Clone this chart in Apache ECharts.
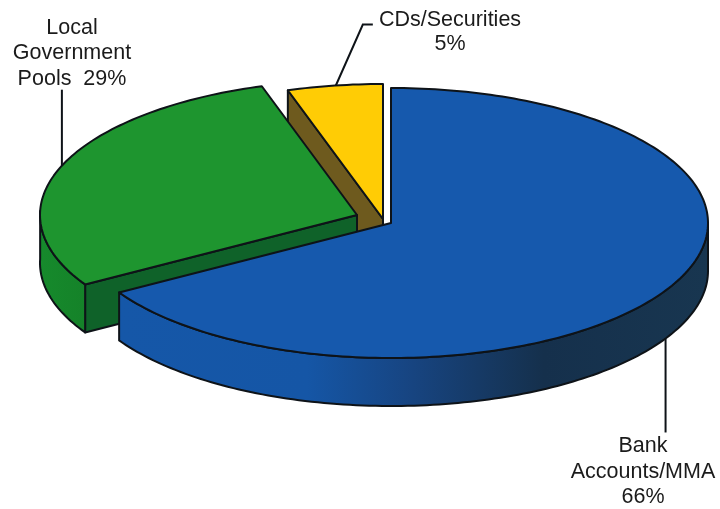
<!DOCTYPE html>
<html>
<head>
<meta charset="utf-8">
<style>html,body{margin:0;padding:0;background:#fff}#chart{width:720px;height:509px}</style>
<script src="https://cdn.jsdelivr.net/npm/echarts@6/dist/echarts.min.js"></script>
</head>
<body>
<div id="chart"></div>
<script>
// Investment mix, in percent, clockwise from twelve o'clock.
const categories = ['Bank Accounts/MMA', 'Local Government Pools', 'CDs/Securities'];
const values = [66, 29, 5];
const labelTemplates = ['Bank\nAccounts/MMA\n{v}%', 'Local\nGovernment\nPools  {v}%', 'CDs/Securities\n{v}%'];

// Disc projection and per-slice styling.
const disc = { cx: 391, cy: 223, rx: 317, ry: 135, depth: 48, perspective: 0.03 };
const EDGE = '#0e1318';
const sliceStyles = [
  {
    explode: [0, 0], top: '#1659ad', cut: '#12438a',
    wall: [[0, '#1557a8'], [0.32, '#1556a6'], [0.5, '#174480'], [0.72, '#15304c'], [1, '#183650']],
    label: { x: 643, y: 472, lineHeight: 25.5 },
    leader: { at: 0.505, fromBase: true, path: [[0, 94]] }
  },
  {
    explode: [-34, -8], top: '#1e952f', cut: '#0f6229',
    wall: [[0, '#168a2c'], [1, '#158229']],
    label: { x: 72, y: 53.5, lineHeight: 25.5 },
    leader: { at: 0.5, fromBase: false, path: [[0, -76]] }
  },
  {
    explode: [-8, -4], top: '#ffcc05', cut: '#6e5a1e',
    wall: [[0, '#6e5a1e'], [1, '#6e5a1e']],
    label: { x: 450, y: 32, lineHeight: 24 },
    leader: { at: 0.51, fromBase: false, path: [[27, -61], [37, -61]] }
  }
];

const total = values.reduce((a, b) => a + b, 0);
const deg = v => (v / total) * 2 * Math.PI;

// Angular extent of each slice, measured clockwise from the top of the disc.
const spans = [];
values.reduce((acc, v) => {
  spans.push([deg(acc), deg(acc + v)]);
  return acc + v;
}, 0);

// Angles on the left half drift slightly under the camera's perspective.
function projected(a) {
  return a > Math.PI ? a + disc.perspective * Math.abs(Math.sin(a)) : a;
}

function rimPoint(center, a, drop) {
  const p = projected(a);
  return [center[0] + disc.rx * Math.sin(p), center[1] - disc.ry * Math.cos(p) + (drop || 0)];
}

function arc(center, a0, a1, drop) {
  const n = Math.max(2, Math.ceil(Math.abs(a1 - a0) / 0.02));
  const pts = [];
  for (let i = 0; i <= n; i++) pts.push(rimPoint(center, a0 + (a1 - a0) * i / n, drop));
  return pts;
}

function poly(points, fill, z2) {
  return {
    type: 'polygon',
    shape: { points },
    z2,
    style: { fill, stroke: EDGE, lineWidth: 2, lineJoin: 'round' }
  };
}

function cutWall(center, a, fill, z2) {
  const p = rimPoint(center, a);
  return poly([center, p, [p[0], p[1] + disc.depth], [center[0], center[1] + disc.depth]], fill, z2);
}

function renderSlice(params, api) {
  const i = api.value(0);
  const s = sliceStyles[i];
  const [a0, a1] = spans[i];
  const center = [disc.cx + s.explode[0], disc.cy + s.explode[1]];
  const children = [];
  const base = 10 * params.dataIndex;

  // Cut faces: only those turned toward the viewer.
  if (Math.sin(a0) < -1e-6) children.push(cutWall(center, a0, s.cut, base + 1));
  if (Math.sin(a1) > 1e-6) children.push(cutWall(center, a1, s.cut, base + 1));

  // Outer rim: the part of the arc on the front half of the disc.
  const w0 = Math.max(a0, Math.PI / 2);
  const w1 = Math.min(a1, 1.5 * Math.PI);
  if (w1 > w0) {
    const pts = arc(center, w0, w1, 0).concat(arc(center, w1, w0, disc.depth));
    children.push(poly(pts, new echarts.graphic.LinearGradient(0, 0, 1, 0, s.wall.map(
      ([offset, color]) => ({ offset, color })
    )), base + 2));
  }

  // Top face.
  children.push(poly([center].concat(arc(center, a0, a1, 0)), s.top, base + 3));

  // Leader line from the rim out to the label.
  const la = a0 + (a1 - a0) * s.leader.at;
  const start = rimPoint(center, la, s.leader.fromBase ? disc.depth : 0);
  const line = [start].concat(s.leader.path.map(d => [start[0] + d[0], start[1] + d[1]]));
  children.push({
    type: 'polyline',
    shape: { points: line },
    z2: 100,
    style: { fill: null, stroke: EDGE, lineWidth: 2 }
  });

  // Label text carrying the slice's value.
  children.push({
    type: 'text',
    z2: 101,
    style: {
      text: labelTemplates[i].replace('{v}', api.value(1)),
      x: s.label.x,
      y: s.label.y,
      align: 'center',
      verticalAlign: 'middle',
      fontFamily: '"Liberation Sans", Arial, sans-serif',
      fontSize: 21.5,
      lineHeight: s.label.lineHeight,
      fill: '#1b1b1b'
    }
  });

  return { type: 'group', children };
}

// Farthest slice first so that nearer slices overlap it.
const drawOrder = [2, 1, 0];

const chart = echarts.init(document.getElementById('chart'), null, { renderer: 'canvas' });
chart.setOption({
  animation: false,
  backgroundColor: '#ffffff',
  series: [{
    type: 'custom',
    coordinateSystem: 'none',
    renderItem: renderSlice,
    data: drawOrder.map(i => ({ name: categories[i], value: [i, values[i]] }))
  }]
});
</script>
</body>
</html>
